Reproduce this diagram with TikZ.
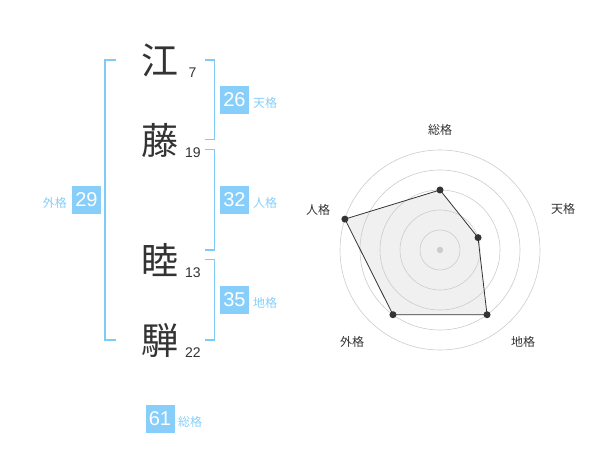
\documentclass[tikz,border=0pt]{standalone}
\usepackage{fontspec}
\setmainfont{Liberation Sans}
\newfontfamily\cjk{Noto Sans CJK JP}
\definecolor{skyb}{HTML}{87CEFA}
\definecolor{brk}{HTML}{7FCBF7}
\definecolor{ink}{HTML}{333333}
\definecolor{ring}{HTML}{CCCCCC}
\definecolor{polyfill}{HTML}{F0F0F0}
\begin{document}
\begin{tikzpicture}[x=1pt,y=-1pt,
  kanji/.style={inner sep=0pt,text=ink,font=\cjk\fontsize{37}{37}\selectfont},
  strokes/.style={inner sep=0pt,text=ink,font=\fontsize{14}{14}\selectfont,anchor=base west},
  numbox/.style={fill=skyb,text=white,minimum width=29pt,minimum height=28pt,inner sep=0pt,font=\fontsize{20}{20}\selectfont},
  kaku/.style={text=skyb,inner sep=0pt,font=\cjk\fontsize{12}{12}\selectfont},
  bracket/.style={draw=brk,line width=1.6pt},
  axislab/.style={text=ink,inner sep=0pt,font=\cjk\fontsize{12}{12}\selectfont},
  ringst/.style={draw=ring,line width=0.6pt},
  dot/.style={circle,fill=ink,inner sep=0pt,minimum size=7pt}]
\useasboundingbox (0,0) rectangle (600,470);
% characters
\node[kanji] (c1) at (160,60) {江};
\node[kanji] (c2) at (160,140) {藤};
\node[kanji] (c3) at (160,260) {睦};
\node[kanji] (c4) at (160,340) {騨};
\node[strokes] (s1) at (188.5,78) {7};
\node[strokes] (s2) at (185,158) {19};
\node[strokes] (s3) at (185,278) {13};
\node[strokes] (s4) at (185,358) {22};
% brackets
\coordinate (L1) at (116,60); \coordinate (L2) at (116,340);
\draw[bracket] (L1) -- ++(-11,0) |- (L2);
\coordinate (R1a) at (205,60); \coordinate (R1b) at (205,139.5);
\draw[bracket] (R1a) -- ++(9.5,0) |- (R1b);
\coordinate (R2a) at (205,149.5); \coordinate (R2b) at (205,250);
\draw[bracket] (R2a) -- ++(9.5,0) |- (R2b);
\coordinate (R3a) at (205,259.5); \coordinate (R3b) at (205,340);
\draw[bracket] (R3a) -- ++(9.5,0) |- (R3b);
% boxes
\node[numbox] (b26) at (234.5,100) {26};
\node[kaku,anchor=west] (k26) at (253,102.5) {天格};
\node[numbox] (b32) at (234.5,200) {32};
\node[kaku,anchor=west] (k32) at (253,202.5) {人格};
\node[numbox] (b35) at (234.5,300) {35};
\node[kaku,anchor=west] (k35) at (253,302.5) {地格};
\node[numbox] (b29) at (86.5,200) {29};
\node[kaku,anchor=east] (k29) at (67,202.5) {外格};
\node[numbox] (b61) at (160,419) {61};
\node[kaku,anchor=west] (k61) at (178,421.5) {総格};
% radar
\coordinate (O) at (440,250);
\path (O) ++(0,-60) coordinate (p1);
\path (O) ++({40*cos(18)},{-40*sin(18)}) coordinate (p2);
\path (O) ++({80*cos(-54)},{-80*sin(-54)}) coordinate (p3);
\path (O) ++({80*cos(234)},{-80*sin(234)}) coordinate (p4);
\path (O) ++({100*cos(162)},{-100*sin(162)}) coordinate (p5);
\fill[polyfill] (p1) -- (p2) -- (p3) -- (p4) -- (p5) -- cycle;
\foreach \r in {20,40,60,80,100} \draw[ringst] (O) circle[radius=\r];
\fill[ring] (O) circle[radius=3.2];
\draw[draw=ink,line width=0.8pt] (p1) -- (p2) -- (p3) -- (p4) -- (p5) -- cycle;
\foreach \p in {p1,p2,p3,p4,p5} \node[dot] (d\p) at (\p) {};
\node[axislab] (a1) at (440,130) {総格};
\node[axislab] (a2) at (563,208.5) {天格};
\node[axislab] (a3) at (523,342) {地格};
\node[axislab] (a4) at (352,342) {外格};
\node[axislab] (a5) at (318,210) {人格};
\end{tikzpicture}
\end{document}
